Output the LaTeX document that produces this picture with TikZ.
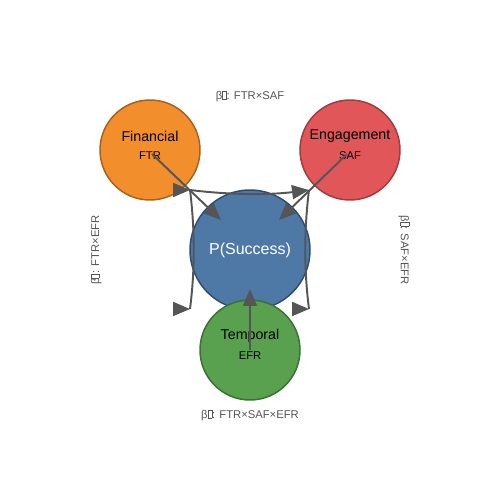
\documentclass[tikz,border=0pt]{standalone}
\usepackage{fontspec}
\setmainfont{Liberation Sans}
\usetikzlibrary{arrows.meta}

\definecolor{finorange}{HTML}{F28E2B}
\definecolor{finborder}{HTML}{A8621E}
\definecolor{engred}{HTML}{E15759}
\definecolor{engborder}{HTML}{A23C3E}
\definecolor{sucblue}{HTML}{4E79A7}
\definecolor{sucborder}{HTML}{2F4D6E}
\definecolor{temgreen}{HTML}{59A14F}
\definecolor{temborder}{HTML}{3B7234}
\definecolor{arrgray}{HTML}{555555}

\newcommand{\missingglyph}{{\setlength{\fboxsep}{0pt}\setlength{\fboxrule}{0.3pt}\fbox{\rule{0pt}{0.7em}\hspace{0.3em}}}}

\tikzset{
	factor/.style={circle,minimum size=2cm,inner sep=0pt,line width=0.85pt},
	arr/.style={line width=1.1pt,color=arrgray,-{Triangle[length=0.34cm,width=0.28cm]}},
	link/.style={line width=1.1pt,color=arrgray},
	betalabel/.style={text=arrgray,font=\fontsize{6.4}{7}\selectfont},
	bigtext/.style={font=\fontsize{8.1}{9}\selectfont},
	smalltext/.style={font=\fontsize{6.4}{7}\selectfont}
}

\begin{document}
\begin{tikzpicture}[x=0.02cm,y=-0.02cm]
\useasboundingbox (0,0) rectangle (500,500);
% factors
\node[factor,fill=finorange,draw=finborder] (FIN) at (150,150) {};
\node[factor,fill=engred,draw=engborder] (ENG) at (350,150) {};
\node[factor,minimum size=2.4cm,fill=sucblue,draw=sucborder] (SUC) at (250,250) {};
\node[factor,fill=temgreen,draw=temborder] (TEM) at (250,350) {};
\node[bigtext] (FINname) at (150,136) {Financial};
\node[smalltext] (FINcode) at (150,156) {FTR};
\node[bigtext] (ENGname) at (350,136) {Engagement};
\node[smalltext] (ENGcode) at (350,156) {SAF};
\node[bigtext] (TEMname) at (250,336) {Temporal};
\node[smalltext] (TEMcode) at (250,356) {EFR};
\node[text=white,font=\fontsize{9.1}{10}\selectfont] (SUCname) at (250,250.5) {P(Success)};
% main effects
\coordinate (FINtail) at (152,154);
\coordinate (FINhead) at (221,220);
\coordinate (ENGtail) at (347,154);
\coordinate (ENGhead) at (279,220);
\coordinate (TEMtail) at (250,350);
\coordinate (TEMhead) at (250,289);
\draw[arr] (FINtail) -- (FINhead);
\draw[arr] (ENGtail) -- (ENGhead);
\draw[arr] (TEMtail) -- (TEMhead);
% interactions
\coordinate (TL) at (190,190);
\coordinate (TR) at (309,190);
\coordinate (BL) at (190,309);
\coordinate (BR) at (309,309);
\coordinate (TLin) at (186,190);
\coordinate (BLin) at (186,309);
\coordinate (BRin) at (305,309);
\draw[arr] (TL) .. controls (230,195) and (270,195) .. (TR);
\draw[link] (TL) .. controls (195,230) and (195,270) .. (BL);
\draw[link] (TR) .. controls (304,230) and (304,270) .. (BR);
\draw[arr] (TLin) -- (TL);
\draw[arr] (BLin) -- (BL);
\draw[arr] (BRin) -- (BR);
% labels
\node[betalabel] (topbeta) at (250,96) {β\missingglyph: FTR×SAF};
\node[betalabel,rotate=90] (leftbeta) at (96,250) {β\missingglyph: FTR×EFR};
\node[betalabel,rotate=-90] (rightbeta) at (404,250) {β\missingglyph: SAF×EFR};
\node[betalabel] (botbeta) at (250,415) {β\missingglyph: FTR×SAF×EFR};
\end{tikzpicture}
\end{document}
